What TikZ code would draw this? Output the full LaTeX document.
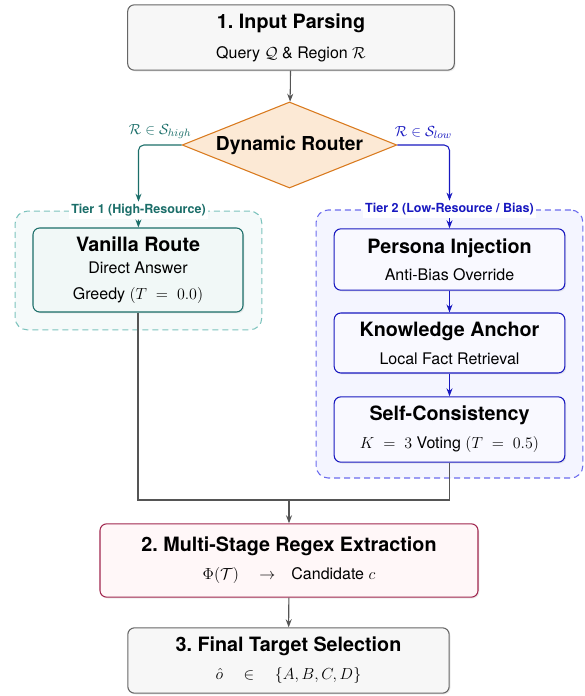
\documentclass[tikz,border=0pt]{standalone}
\usepackage[no-math]{fontspec}
\setmainfont{TeX Gyre Heros}
\usetikzlibrary{shapes.geometric,arrows.meta,shadows,positioning}

\definecolor{inkgray}{HTML}{555555}
\definecolor{boxgray}{HTML}{666666}
\definecolor{fillgray}{HTML}{F7F7F7}
\definecolor{routerline}{HTML}{D97A1E}
\definecolor{routerfill}{HTML}{FCE9D5}
\definecolor{tealdark}{HTML}{1B6E69}
\definecolor{teallight}{HTML}{7CC3BD}
\definecolor{tealfill}{HTML}{F5FAFA}
\definecolor{tealbox}{HTML}{F1F8F7}
\definecolor{bluedark}{HTML}{1818C0}
\definecolor{bluelight}{HTML}{6B6BEE}
\definecolor{bluefill}{HTML}{F4F5FF}
\definecolor{bluebox}{HTML}{F9F9FF}
\definecolor{crimson}{HTML}{A0264E}
\definecolor{crimsonfill}{HTML}{FFF7F8}

\newcommand{\stagetitle}[1]{{\fontsize{14.8}{17}\selectfont\bfseries #1}}

\begin{document}
\begin{tikzpicture}[x=0.75pt,y=-0.75pt,
    procbox/.style={rectangle, rounded corners=5pt, draw, line width=0.8pt,
        align=center, inner sep=2pt, font=\large,
        drop shadow={shadow xshift=1pt, shadow yshift=-1pt, opacity=0.15}},
    graybox/.style={procbox, draw=boxgray, fill=fillgray},
    tealstep/.style={procbox, draw=tealdark, fill=tealbox},
    bluestep/.style={procbox, draw=bluedark, fill=bluebox},
    tierbox/.style={rectangle, rounded corners=9pt, line width=0.8pt,
        dash pattern=on 4.5pt off 3pt},
    tierlabel/.style={fill=white, inner sep=2pt,
        font=\fontsize{9.4}{11}\selectfont\bfseries},
    condlabel/.style={font=\fontsize{11}{13}\selectfont},
    flow/.style={line width=0.8pt, draw=inkgray,
        -{Stealth[length=6pt,width=4.5pt]}}]

\useasboundingbox (0,0) rectangle (585,696);

% tier containers
\node[tierbox, draw=teallight, fill=tealfill, minimum width=185pt, minimum height=89pt]
    (tier1) at (138.5,270.5) {};
\node[tierbox, draw=bluelight, fill=bluefill, minimum width=200pt, minimum height=201pt]
    (tier2) at (449.5,344) {};

% main stages
\node[graybox, minimum width=245pt, minimum height=49pt] (parse) at (291,37.5)
    {\stagetitle{1.~Input Parsing}\\[8.5pt] Query $\mathcal{Q}$ \& Region $\mathcal{R}$};
\node[diamond, draw=routerline, fill=routerfill, line width=0.8pt, aspect=2.5,
    inner sep=0pt, minimum width=161pt, minimum height=64.5pt] (router) at (289.5,145)
    {\Large\bfseries Dynamic Router};

% tier 1
\node[tealstep, minimum width=157.5pt, minimum height=63pt] (vanilla) at (138,270)
    {\stagetitle{Vanilla Route}\\[2.5pt] Direct Answer\\[5.5pt] Greedy $(T\ =\ 0.0)$};

% tier 2
\node[bluestep, minimum width=173pt, minimum height=46pt] (persona) at (449.5,259.5)
    {\stagetitle{Persona Injection}\\[6pt] Anti-Bias Override};
\node[bluestep, minimum width=173pt, minimum height=45pt] (anchor) at (449.5,343)
    {\stagetitle{Knowledge Anchor}\\[7pt] Local Fact Retrieval};
\node[bluestep, minimum width=173pt, minimum height=49pt] (selfcons) at (449.5,429.5)
    {\stagetitle{Self-Consistency}\\[7pt] $K\ =\ 3$ Voting $(T\ =\ 0.5)$};

% extraction and selection
\node[procbox, draw=crimson, fill=crimsonfill, minimum width=283.5pt, minimum height=55pt]
    (regex) at (289,560.5)
    {\stagetitle{2.~Multi-Stage Regex Extraction}\\[7pt] $\Phi(\mathcal{T})\quad\rightarrow\quad$Candidate $c$};
\node[graybox, minimum width=241pt, minimum height=49pt] (final) at (288.5,660.5)
    {\stagetitle{3.~Final Target Selection}\\[7pt] $\hat{o}\quad\in\quad\{A,B,C,D\}$};

\coordinate (merge) at (289,500);

% tier labels
\node[tierlabel, text=tealdark] (tier1lbl) at (tier1.north) {Tier 1 (High-Resource)};
\node[tierlabel, text=bluedark] (tier2lbl) at (tier2.north) {Tier 2 (Low-Resource / Bias)};

% connectors
\draw[flow] (parse) -- (router);
\draw[flow, draw=tealdark, rounded corners=4pt] (router.west) -| (tier1lbl.north)
    node[pos=0.25, above=1pt, text=tealdark, condlabel] {$\mathcal{R}\in\mathcal{S}_{high}$};
\draw[flow, draw=tealdark] (tier1lbl) -- (vanilla);
\draw[flow, draw=bluedark, rounded corners=4pt] (router.east) -| (tier2lbl.north)
    node[pos=0.25, above=1pt, text=bluedark, condlabel] {$\mathcal{R}\in\mathcal{S}_{low}$};
\draw[flow, draw=bluedark] (tier2lbl) -- (persona);
\draw[flow, draw=bluedark] (persona) -- (anchor);
\draw[flow, draw=bluedark] (anchor) -- (selfcons);
\draw[line width=0.8pt, draw=inkgray] (vanilla.south) |- (merge) -| (selfcons.south);
\draw[flow] (merge) -- (regex);
\draw[flow] (regex) -- (final);

\end{tikzpicture}
\end{document}
